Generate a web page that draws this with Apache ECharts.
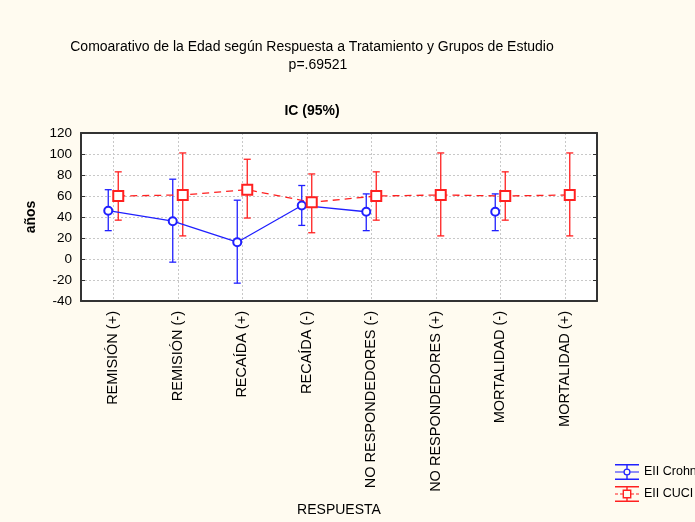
<!DOCTYPE html>
<html>
<head>
<meta charset="utf-8">
<script src="https://cdn.jsdelivr.net/npm/echarts@6/dist/echarts.min.js"></script>
<style>
html,body{margin:0;padding:0;background:#fffbf0;}
#c{width:695px;height:522px;}
</style>
</head>
<body>
<div id="c"></div>
<script>
// ---- data ----
const categories = ['REMISIÓN (+)', 'REMISIÓN (-)', 'RECAÍDA (+)', 'RECAÍDA (-)',
  'NO RESPONDEDORES (-)', 'NO RESPONDEDORES (+)', 'MORTALIDAD (-)', 'MORTALIDAD (+)'];
const crohnMean = [46, 36, 16, 51, 45, null, 45, null];
const crohnLow  = [27, -3, -23, 32, 27, null, 27, null];
const crohnHigh = [66, 76, 56, 70, 62, null, 62, null];
const cuciMean  = [60, 61, 66, 54, 60, 61, 60, 61];
const cuciLow   = [37, 22, 39, 25, 37, 22, 37, 22];
const cuciHigh  = [83, 101, 95, 81, 83, 101, 83, 101];
const yTicks = { min: -40, max: 120, interval: 20 };
const seriesNames = ['EII Crohn', 'EII CUCI'];
const titleLines = ['Comoarativo de la Edad según Respuesta a Tratamiento y Grupos de Estudio', 'p=.69521'];
const subTitle = 'IC (95%)';
const xName = 'RESPUESTA';
const yName = 'años';

const BLUE = '#2020ff';
const RED = '#ff2020';
const FONT = '"Liberation Sans", Arial, sans-serif';

function errData(lo, hi) {
  const out = [];
  for (let i = 0; i < categories.length; i++) {
    if (lo[i] != null && hi[i] != null) out.push([i, lo[i], hi[i]]);
  }
  return out;
}
function errRender(params, api) {
  const x = api.value(0), lo = api.value(1), hi = api.value(2);
  const a = api.coord([x, lo]), b = api.coord([x, hi]);
  const cap = 3.5;
  const style = { stroke: api.visual('color'), lineWidth: 1.3 };
  return {
    type: 'group',
    children: [
      { type: 'line', shape: { x1: a[0], y1: a[1], x2: b[0], y2: b[1] }, style: style },
      { type: 'line', shape: { x1: a[0] - cap, y1: a[1], x2: a[0] + cap, y2: a[1] }, style: style },
      { type: 'line', shape: { x1: b[0] - cap, y1: b[1], x2: b[0] + cap, y2: b[1] }, style: style }
    ]
  };
}

const iconCrohn = 'path://M0 0H24V1.4H0Z M0 14.6H24V16H0Z M11.3 1.4H12.7V4.4H11.3Z M11.3 11.6H12.7V14.6H11.3Z M0 7.4H8.4V8.6H0Z M15.6 7.4H24V8.6H15.6Z M8.4 8A3.6 3.6 0 1 0 15.6 8A3.6 3.6 0 1 0 8.4 8Z M9.7 8A2.3 2.3 0 1 1 14.3 8A2.3 2.3 0 1 1 9.7 8Z';
const iconCuci = 'path://M0 0H24V1.4H0Z M0 14.6H24V16H0Z M11.3 1.4H12.7V3.6H11.3Z M11.3 12.4H12.7V14.6H11.3Z M0 7.4H3V8.6H0Z M5 7.4H7.6V8.6H5Z M16.4 7.4H19V8.6H16.4Z M21 7.4H24V8.6H21Z M7.6 3.6H16.4V12.4H7.6Z M9 5V11H15V5Z';

const gridTop = 133, gridH = 168, gridLeft = 81, gridRight = 98, off = 5;

const chart = echarts.init(document.getElementById('c'), null, { renderer: 'canvas' });
const hiddenY = Object.assign({ type: 'value', show: false }, yTicks);
chart.setOption({
  backgroundColor: '#fffbf0',
  animation: false,
  textStyle: { fontFamily: FONT },
  title: [
    { text: titleLines[0], left: 307, top: 35, textAlign: 'center', textStyle: { fontSize: 14, fontWeight: 'normal', color: '#000', fontFamily: FONT } },
    { text: titleLines[1], left: 313, top: 53, textAlign: 'center', textStyle: { fontSize: 14, fontWeight: 'normal', color: '#000', fontFamily: FONT } },
    { text: subTitle, left: 307, top: 99, textAlign: 'center', textStyle: { fontSize: 14, fontWeight: 'bold', color: '#000', fontFamily: FONT } }
  ],
  legend: {
    orient: 'vertical', left: 615, top: 464, padding: 0, itemWidth: 24, itemHeight: 16, itemGap: 6,
    textStyle: { fontSize: 12.5, color: '#000', fontFamily: FONT },
    itemStyle: { borderWidth: 0 },
    data: [
      { name: seriesNames[0], icon: iconCrohn, itemStyle: { color: BLUE, borderWidth: 0 } },
      { name: seriesNames[1], icon: iconCuci, itemStyle: { color: RED, borderWidth: 0 } }
    ]
  },
  grid: [
    { left: gridLeft, right: gridRight, top: gridTop, height: gridH, show: true, backgroundColor: '#ffffff', borderWidth: 0 },
    { left: gridLeft - off, right: gridRight + off, top: gridTop, height: gridH },
    { left: gridLeft + off, right: gridRight - off, top: gridTop, height: gridH }
  ],
  xAxis: [
    {
      type: 'category', data: categories, gridIndex: 0, position: 'bottom',
      name: xName, nameLocation: 'middle', nameGap: 202,
      nameTextStyle: { fontSize: 14, color: '#000', fontFamily: FONT },
      axisLine: { onZero: false, lineStyle: { color: '#333', width: 2 } },
      axisTick: { inside: true, length: 4, alignWithLabel: true, lineStyle: { color: '#333', width: 1 } },
      axisLabel: { rotate: 90, margin: 10, fontSize: 14.5, color: '#000', fontFamily: FONT, interval: 0 },
      splitLine: { show: true, alignWithLabel: true, lineStyle: { color: '#c8c8c8', type: [2, 2], width: 1 } }
    },
    {
      type: 'category', data: categories, gridIndex: 0, position: 'top',
      axisLine: { onZero: false, lineStyle: { color: '#333', width: 2 } },
      axisTick: { inside: true, length: 4, alignWithLabel: true, lineStyle: { color: '#333', width: 1 } },
      axisLabel: { show: false }, splitLine: { show: false }
    },
    { type: 'category', data: categories, gridIndex: 1, show: false },
    { type: 'category', data: categories, gridIndex: 2, show: false }
  ],
  yAxis: [
    Object.assign({
      type: 'value', gridIndex: 0, position: 'left',
      name: yName, nameLocation: 'middle', nameGap: 41,
      nameTextStyle: { fontSize: 14, fontWeight: 'bold', color: '#000', fontFamily: FONT },
      axisLine: { show: true, onZero: false, lineStyle: { color: '#333', width: 2 } },
      axisTick: { show: true, inside: true, length: 4, lineStyle: { color: '#333', width: 1 } },
      axisLabel: { fontSize: 13.5, color: '#000', margin: 9, fontFamily: FONT },
      splitLine: { show: true, lineStyle: { color: '#c8c8c8', type: [2, 2], width: 1 } }
    }, yTicks),
    Object.assign({
      type: 'value', gridIndex: 0, position: 'right',
      axisLine: { show: true, onZero: false, lineStyle: { color: '#333', width: 2 } },
      axisTick: { show: true, inside: true, length: 4, lineStyle: { color: '#333', width: 1 } },
      axisLabel: { show: false }, splitLine: { show: false }
    }, yTicks),
    Object.assign({ gridIndex: 1 }, hiddenY),
    Object.assign({ gridIndex: 2 }, hiddenY)
  ],
  series: [
    {
      name: 'crohnErr', type: 'custom', xAxisIndex: 2, yAxisIndex: 2,
      data: errData(crohnLow, crohnHigh), encode: { x: 0, y: [1, 2] },
      renderItem: errRender, itemStyle: { color: BLUE }, z: 2
    },
    {
      name: seriesNames[0], type: 'line', xAxisIndex: 2, yAxisIndex: 2,
      data: crohnMean, connectNulls: false,
      symbol: 'emptyCircle', symbolSize: 8,
      itemStyle: { color: BLUE, borderWidth: 1.5 },
      lineStyle: { color: BLUE, width: 1.3 }, z: 3
    },
    {
      name: 'cuciErr', type: 'custom', xAxisIndex: 3, yAxisIndex: 3,
      data: errData(cuciLow, cuciHigh), encode: { x: 0, y: [1, 2] },
      renderItem: errRender, itemStyle: { color: RED }, z: 2
    },
    {
      name: seriesNames[1], type: 'line', xAxisIndex: 3, yAxisIndex: 3,
      data: cuciMean, connectNulls: false,
      symbol: 'emptyRect', symbolSize: 10,
      itemStyle: { color: RED, borderWidth: 1.5 },
      lineStyle: { color: RED, width: 1.3, type: [7, 5] }, z: 3
    }
  ]
});
</script>
</body>
</html>
